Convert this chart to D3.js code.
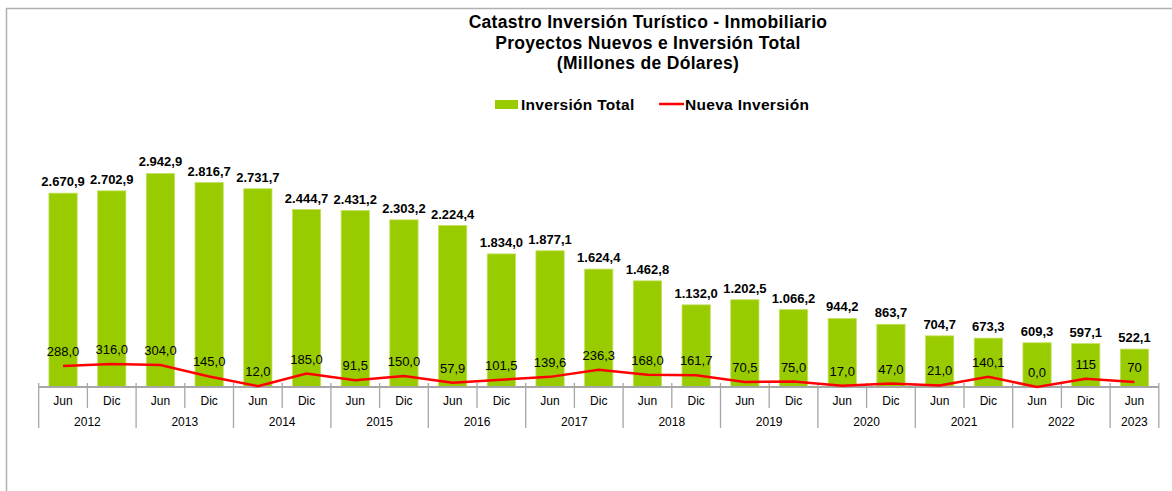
<!DOCTYPE html>
<html>
<head>
<meta charset="utf-8">
<script src="https://cdn.jsdelivr.net/npm/d3@7"></script>
<style>
  html, body { margin: 0; padding: 0; background: #fff; }
  svg { display: block; font-family: "Liberation Sans", Arial, sans-serif; }
</style>
</head>
<body>
<svg id="chart"></svg>
<script>
// =====================================================
// Data
// =====================================================
const periods   = ["Jun","Dic","Jun","Dic","Jun","Dic","Jun","Dic","Jun","Dic","Jun","Dic",
                   "Jun","Dic","Jun","Dic","Jun","Dic","Jun","Dic","Jun","Dic","Jun"];
const years     = ["2012","2012","2013","2013","2014","2014","2015","2015","2016","2016","2017","2017",
                   "2018","2018","2019","2019","2020","2020","2021","2021","2022","2022","2023"];
const inversionTotal = [2670.9, 2702.9, 2942.9, 2816.7, 2731.7, 2444.7, 2431.2, 2303.2, 2224.4, 1834.0,
                        1877.1, 1624.4, 1462.8, 1132.0, 1202.5, 1066.2, 944.2, 863.7, 704.7, 673.3,
                        609.3, 597.1, 522.1];
const nuevaInversion = [288.0, 316.0, 304.0, 145.0, 12.0, 185.0, 91.5, 150.0, 57.9, 101.5,
                        139.6, 236.3, 168.0, 161.7, 70.5, 75.0, 17.0, 47.0, 21.0, 140.1,
                        0.0, 115, 70];
const nuevaLabels    = ["288,0","316,0","304,0","145,0","12,0","185,0","91,5","150,0","57,9","101,5",
                        "139,6","236,3","168,0","161,7","70,5","75,0","17,0","47,0","21,0","140,1",
                        "0,0","115","70"];
const titleLines = ["Catastro Inversión Turístico - Inmobiliario",
                    "Proyectos Nuevos e Inversión Total",
                    "(Millones de Dólares)"];
const legendItems = ["Inversión Total", "Nueva Inversión"];

// =====================================================
// Setup
// =====================================================
const width  = 1172;
const height = 491;
const baseY  = 387;          // axis line
const x0     = 38.7, x1 = 1158.8;
const barColor  = "#99cc00";
const lineColor = "#ff0000";
const axisColor = "#a6a6a6";

const locale = d3.formatLocale({ decimal: ",", thousands: ".", grouping: [3], currency: ["$", ""] });
const fmt    = locale.format(",.1f");

const svg = d3.select("#chart")
  .attr("width", width)
  .attr("height", height);

// frame (top + left edges visible in the original)
svg.append("path")
  .attr("d", `M6.5,${height} V8.5 H${width}`)
  .attr("fill", "none")
  .attr("stroke", "#b0b0b0")
  .attr("stroke-width", 1.5);

const idx = d3.range(periods.length);

const x = d3.scaleBand()
  .domain(idx)
  .range([x0, x1])
  .padding(0);

const y = d3.scaleLinear()
  .domain([0, 3500])
  .range([baseY, 133]);

const barW = x.bandwidth() * 0.58;
const cx   = i => x(i) + x.bandwidth() / 2;

// ----------
// Title
// =================
svg.append("g")
  .selectAll("text")
  .data(titleLines)
  .join("text")
  .attr("x", 648)
  .attr("y", (d, i) => 28 + i * 20.5)
  .attr("text-anchor", "middle")
  .attr("font-size", 17.5)
  .attr("letter-spacing", 0.3)
  .attr("font-weight", "bold")
  .attr("fill", "#000")
  .text(d => d);

// ----------
// Legend
// =================
const legend = svg.append("g");
legend.append("rect")
  .attr("x", 495).attr("y", 100)
  .attr("width", 23).attr("height", 9)
  .attr("fill", barColor);
legend.append("text")
  .attr("x", 521).attr("y", 109.5)
  .attr("font-size", 15.5).attr("font-weight", "bold")
  .attr("letter-spacing", 0.3)
  .text(legendItems[0]);
legend.append("line")
  .attr("x1", 659).attr("x2", 684)
  .attr("y1", 104).attr("y2", 104)
  .attr("stroke", lineColor).attr("stroke-width", 2.5);
legend.append("text")
  .attr("x", 685).attr("y", 109.5)
  .attr("font-size", 15.5).attr("font-weight", "bold")
  .attr("letter-spacing", 0.3)
  .text(legendItems[1]);

// ----------
// Bars
// =================
svg.append("g")
  .selectAll("rect")
  .data(inversionTotal)
  .join("rect")
  .attr("x", (d, i) => cx(i) - barW / 2)
  .attr("y", d => y(d))
  .attr("width", barW)
  .attr("height", d => baseY - y(d))
  .attr("fill", barColor)
  .attr("stroke", "#c2e05a")
  .attr("stroke-width", 0.8);

svg.append("g")
  .selectAll("text")
  .data(inversionTotal)
  .join("text")
  .attr("x", (d, i) => cx(i))
  .attr("y", d => y(d) - 7)
  .attr("text-anchor", "middle")
  .attr("font-size", 13)
  .attr("font-weight", "bold")
  .text(d => fmt(d));

// ----------
// Axis
// =================
const axis = svg.append("g").attr("stroke", axisColor).attr("stroke-width", 1.3);
axis.append("line")
  .attr("x1", x0).attr("x2", x1)
  .attr("y1", baseY).attr("y2", baseY)
  .attr("stroke-width", 2);

// tick at every category boundary, longer where the year changes
const bounds = d3.range(periods.length + 1);
axis.selectAll(".tick")
  .data(bounds)
  .join("line")
  .attr("x1", i => i < periods.length ? x(i) : x1)
  .attr("x2", i => i < periods.length ? x(i) : x1)
  .attr("y1", baseY - 4)
  .attr("y2", i => (i === 0 || i === periods.length || years[i] !== years[i - 1]) ? 428 : 408);

svg.append("g")
  .selectAll("text")
  .data(periods)
  .join("text")
  .attr("x", (d, i) => cx(i))
  .attr("y", 405)
  .attr("text-anchor", "middle")
  .attr("font-size", 12)
  .text(d => d);

const yearGroups = d3.groups(idx, i => years[i]);
svg.append("g")
  .selectAll("text")
  .data(yearGroups)
  .join("text")
  .attr("x", ([, is]) => (x(is[0]) + x(is[is.length - 1]) + x.bandwidth()) / 2)
  .attr("y", 426)
  .attr("text-anchor", "middle")
  .attr("font-size", 12)
  .text(([yr]) => yr);

// ----------
// Line
// =================
const line = d3.line()
  .x((d, i) => cx(i))
  .y(d => y(d));

svg.append("path")
  .datum(nuevaInversion)
  .attr("fill", "none")
  .attr("stroke", lineColor)
  .attr("stroke-width", 2.5)
  .attr("d", line);

svg.append("g")
  .selectAll("text")
  .data(nuevaInversion)
  .join("text")
  .attr("x", (d, i) => cx(i))
  .attr("y", d => y(d) - 10)
  .attr("text-anchor", "middle")
  .attr("font-size", 13)
  .text((d, i) => nuevaLabels[i]);
</script>
</body>
</html>
